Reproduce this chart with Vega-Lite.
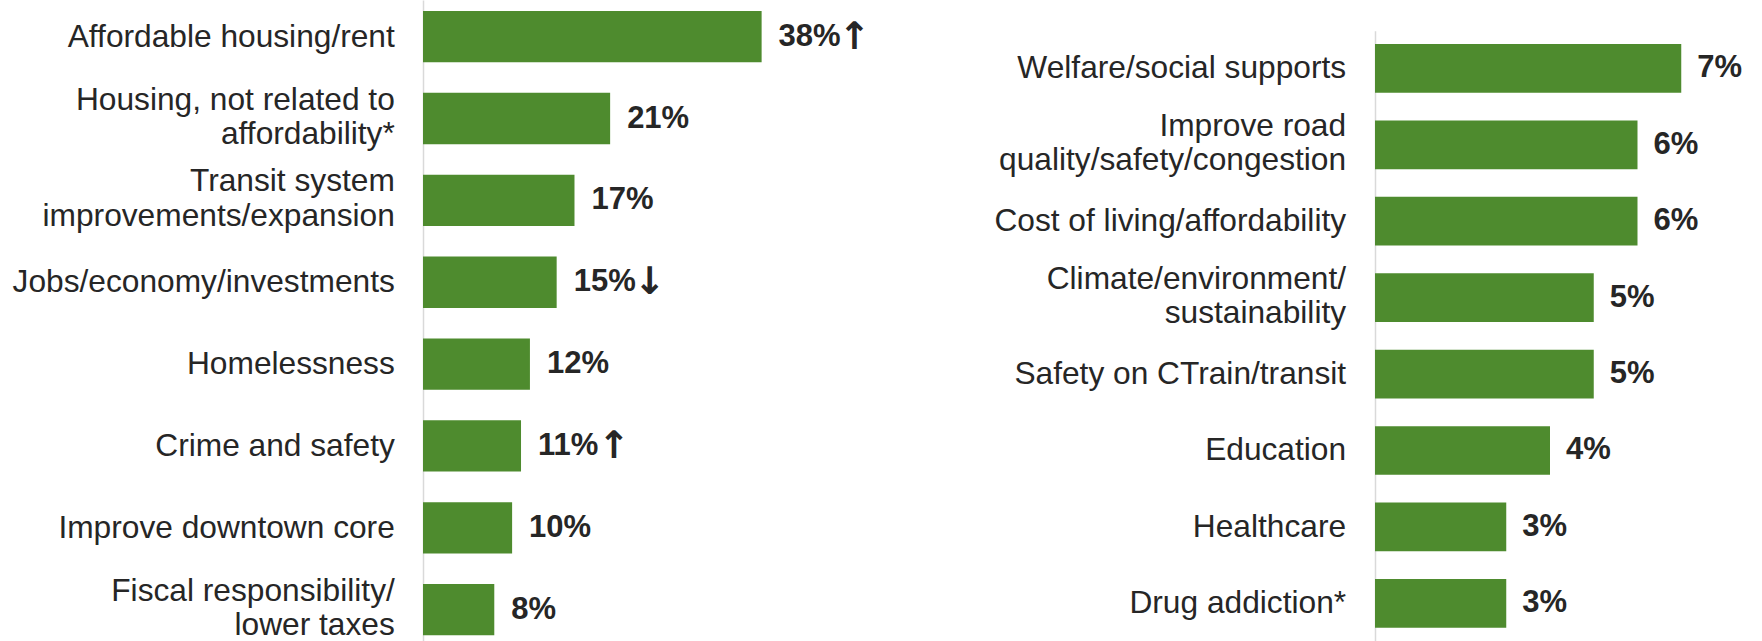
{
  "$schema": "https://vega.github.io/schema/vega-lite/v6.json",
  "padding": 0,
  "spacing": 122,
  "background": "#ffffff",
  "config": {
    "view": {"stroke": null},
    "font": "Liberation Sans",
    "axis": {"grid": false}
  },
  "datasets": {
    "left": [
      {"issue": "Affordable housing/rent", "pct": 38, "label": "38%", "trend": "↑"},
      {"issue": "Housing, not related to|affordability*", "pct": 21, "label": "21%", "trend": ""},
      {"issue": "Transit system|improvements/expansion", "pct": 17, "label": "17%", "trend": ""},
      {"issue": "Jobs/economy/investments", "pct": 15, "label": "15%", "trend": "↓"},
      {"issue": "Homelessness", "pct": 12, "label": "12%", "trend": ""},
      {"issue": "Crime and safety", "pct": 11, "label": "11%", "trend": "↑"},
      {"issue": "Improve downtown core", "pct": 10, "label": "10%", "trend": ""},
      {"issue": "Fiscal responsibility/|lower taxes", "pct": 8, "label": "8%", "trend": ""}
    ],
    "right": [
      {"issue": "Welfare/social supports", "pct": 7, "label": "7%"},
      {"issue": "Improve road|quality/safety/congestion", "pct": 6, "label": "6%"},
      {"issue": "Cost of living/affordability", "pct": 6, "label": "6%"},
      {"issue": "Climate/environment/|sustainability", "pct": 5, "label": "5%"},
      {"issue": "Safety on CTrain/transit", "pct": 5, "label": "5%"},
      {"issue": "Education", "pct": 4, "label": "4%"},
      {"issue": "Healthcare", "pct": 3, "label": "3%"},
      {"issue": "Drug addiction*", "pct": 3, "label": "3%"}
    ]
  },
  "hconcat": [
    {
      "data": {"name": "left"},
      "width": 401,
      "height": 641,
      "encoding": {
        "y": {
          "field": "issue",
          "type": "nominal",
          "sort": null,
          "scale": {"paddingInner": 0.373, "paddingOuter": 0.1016, "align": 0.66},
          "axis": {
            "title": null,
            "ticks": false,
            "domain": true,
            "domainColor": "#d9d9d9",
            "domainWidth": 1.5,
            "labelFont": "Liberation Sans",
            "labelFontSize": 31.7,
            "labelColor": "#262626",
            "labelPadding": 28.7,
            "labelLineHeight": 34.5,
            "labelLimit": 1000,
            "labelOffset": {"condition": {"test": "indexof(datum.value, '|') >= 0", "value": -19}, "value": 0},
            "minExtent": 423,
            "maxExtent": 423,
            "labelExpr": "split(datum.label, '|')"
          }
        },
        "x": {
          "field": "pct",
          "type": "quantitative",
          "scale": {"domain": [0, 45], "nice": false},
          "axis": null
        }
      },
      "layer": [
        {"mark": {"type": "bar", "color": "#4e8b2e"}},
        {
          "mark": {"type": "text", "align": "left", "baseline": "middle", "dx": 17, "font": "Liberation Sans", "fontSize": 31, "fontWeight": "bold", "color": "#262626"},
          "encoding": {"text": {"field": "label"}}
        },
        {
          "mark": {"type": "text", "align": "left", "baseline": "middle", "dx": 77, "dy": 1, "font": "DejaVu Sans", "fontSize": 38, "fontWeight": "bold", "color": "#262626"},
          "encoding": {"text": {"field": "trend"}}
        }
      ]
    },
    {
      "data": {"name": "right"},
      "width": 385,
      "height": 641,
      "encoding": {
        "y": {
          "field": "issue",
          "type": "nominal",
          "sort": null,
          "scale": {"range": [30.7, 641], "paddingInner": 0.3625, "paddingOuter": 0.174},
          "axis": {
            "title": null,
            "ticks": false,
            "domain": true,
            "domainColor": "#d9d9d9",
            "domainWidth": 1.5,
            "labelFont": "Liberation Sans",
            "labelFontSize": 31.7,
            "labelColor": "#262626",
            "labelPadding": 29.4,
            "labelLineHeight": 34.5,
            "labelLimit": 1000,
            "labelOffset": {"condition": {"test": "indexof(datum.value, '|') >= 0", "value": -19}, "value": 0},
            "minExtent": 380,
            "maxExtent": 380,
            "labelExpr": "split(datum.label, '|')"
          }
        },
        "x": {
          "field": "pct",
          "type": "quantitative",
          "scale": {"domain": [0, 8.8], "nice": false},
          "axis": null
        }
      },
      "layer": [
        {"mark": {"type": "bar", "color": "#4e8b2e"}},
        {
          "mark": {"type": "text", "align": "left", "baseline": "middle", "dx": 16, "font": "Liberation Sans", "fontSize": 31, "fontWeight": "bold", "color": "#262626"},
          "encoding": {"text": {"field": "label"}}
        }
      ]
    }
  ]
}
